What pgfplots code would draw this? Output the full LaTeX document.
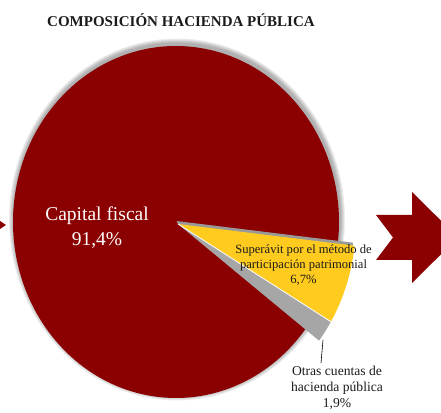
\documentclass[border=0pt]{standalone}
\usepackage{fontspec}
\setmainfont{Liberation Serif}
\usepackage{pgfplots}
\usepackage{pgfplotstable}
\pgfplotsset{compat=1.18}

\definecolor{capred}{HTML}{8B0000}
\definecolor{supyel}{HTML}{FFCB1F}
\definecolor{otgray}{HTML}{A6A6A6}
\definecolor{txt}{HTML}{1A1A1A}

% composicion hacienda publica (%)
\pgfplotstableread{
part value
capital 91.4
superavit 6.7
otras 1.9
}\piedata

\begin{document}
\begin{tikzpicture}[x=1pt,y=1pt]
\path[use as bounding box] (0,0) rectangle (441,412);

\pgfplotstablegetelem{0}{value}\of\piedata \let\vA\pgfplotsretval
\pgfplotstablegetelem{1}{value}\of\piedata \let\vB\pgfplotsretval
\pgfplotstablegetelem{2}{value}\of\piedata \let\vC\pgfplotsretval
\pgfmathsetmacro{\sA}{-6.5}
\pgfmathsetmacro{\eA}{\sA+3.6*\vA}
\pgfmathsetmacro{\eB}{\sA-3.6*\vB}
\pgfmathsetmacro{\eC}{\eB-3.6*\vC}
% start points of the arcs (pt, from the centre)
\pgfmathsetmacro{\ax}{163*cos(\sA)}   \pgfmathsetmacro{\ay}{176*sin(\sA)}
\pgfmathsetmacro{\bx}{177.7*cos(\sA)} \pgfmathsetmacro{\by}{191.8*sin(\sA)}
\pgfmathsetmacro{\cx}{177.7*cos(\eB)} \pgfmathsetmacro{\cy}{191.8*sin(\eB)}

% decorative arrows, cut at the page edge
\begin{scope}
\clip (0,0) rectangle (441,412);
\fill[capred] (376,197) -- (412,197) -- (412,220) -- (458,174.5) -- (412,129) -- (412,152)
  -- (376,152) -- (393,174.5) -- cycle;
\fill[capred] (-12,199) -- (6,187) -- (-12,175) -- cycle;
\end{scope}

\begin{axis}[
    at={(13pt,14pt)}, anchor=south west,
    scale only axis, width=326pt, height=352pt,
    xmin=-1, xmax=1, ymin=-1, ymax=1,
    hide axis, clip=false]
% soft shadow
\pgfplotsinvokeforeach{1,...,5}{
  \fill[black, opacity=0.07] ([shift={(1pt,2.5pt)}]axis cs:0,0)
    ellipse[x radius={(163+#1)*1pt}, y radius={(176+#1)*1pt}];
}
% capital fiscal
\fill[capred] (axis cs:0,0) -- ([shift={(\ax pt,\ay pt)}]axis cs:0,0)
  arc[start angle=\sA, end angle=\eA, x radius=163pt, y radius=176pt] -- cycle;
% shadow under the exploded slices
\fill[black!40] ([shift={(0.5pt,1pt)}]axis cs:0,0) -- ++(\bx pt,\by pt)
  arc[start angle=\sA, end angle=\eC, x radius=177.7pt, y radius=191.8pt] -- cycle;
% superavit
\fill[supyel] ([shift={(2pt,-2pt)}]axis cs:0,0) -- ++(\bx pt,\by pt)
  arc[start angle=\sA, end angle=\eB, x radius=177.7pt, y radius=191.8pt] -- cycle;
% otras cuentas
\fill[otgray] ([shift={(2pt,-2pt)}]axis cs:0,0) -- ++(\cx pt,\cy pt)
  arc[start angle=\eB, end angle=\eC, x radius=177.7pt, y radius=191.8pt] -- cycle;
\draw[white, line width=0.8pt] ([shift={(2pt,-2pt)}]axis cs:0,0) -- ++(\cx pt,\cy pt);
\end{axis}

% leader line
\draw[black, line width=0.6pt] (323,72) -- (321,49);

% texts
\node[font=\bfseries\fontsize{15}{17}\selectfont, txt] at (181,392) {COMPOSICIÓN HACIENDA PÚBLICA};
\node[white, font=\fontsize{19.5}{25}\selectfont, align=center] at (97,184.5) {Capital fiscal\\91,4\%};
\node[txt, font=\fontsize{12.6}{15}\selectfont, align=center] at (303.5,146.5)
  {Superávit por el método de\\participación patrimonial\\6,7\%};
\node[txt, font=\fontsize{13.6}{16}\selectfont, align=center] at (337,24)
  {Otras cuentas de\\hacienda pública\\1,9\%};
\end{tikzpicture}
\end{document}
